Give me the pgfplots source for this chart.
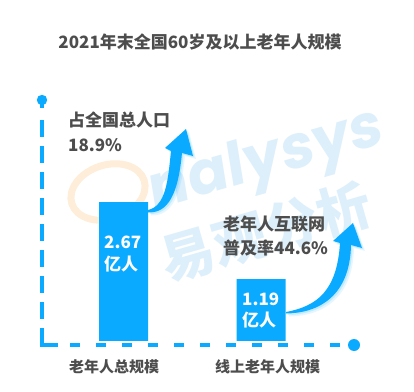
\documentclass[border=0pt]{standalone}
\usepackage{pgfplots}
\pgfplotsset{compat=1.18}
\usepackage{fontspec}
\setmainfont{Noto Sans CJK SC}
\newfontfamily\wmfont{Poppins}[FakeSlant=0.12]
\definecolor{barblue}{RGB}{9,170,255}
\definecolor{txtgrey}{RGB}{77,77,77}
\definecolor{wmblue}{RGB}{220,239,251}
\definecolor{wmorange}{RGB}{254,237,216}
\newcommand{\fs}[1]{\fontsize{#1}{#1}\selectfont}
\begin{document}
\begin{tikzpicture}
\path[use as bounding box] (0pt,0pt) rectangle (414pt,391pt);
% background watermark (coordinates in px, y downwards)
\begin{scope}[x=1pt,y=-1pt,yshift=391pt]
  \draw[wmorange, line width=7pt, rotate around={18:(108,192)}] (108,192) ellipse (38 and 27);
  \node[rotate=16, text=wmblue, font=\wmfont\bfseries\fs{60}] at (265,163) {nalysys};
  \node[rotate=16, text=wmblue, font=\bfseries\fs{54}] at (266,232) {易观分析};
\end{scope}
% bars
\begin{axis}[at={(42pt,47pt)}, anchor=south west, scale only axis,
  width=312pt, height=244pt,
  xmin=-0.593, xmax=1.676, ymin=-0.058, ymax=4.635,
  axis lines=none, ybar, bar width=49pt, clip=false]
  \addplot[fill=barblue, draw=none] coordinates {(0,2.67) (1,1.19)};
\end{axis}
\begin{scope}[x=1pt,y=-1pt,yshift=391pt]
  % dashed axes with round end points
  \draw[barblue, line width=4pt, dash pattern=on 17pt off 9pt] (42,120) -- (42,328);
  \draw[barblue, line width=4pt, miter limit=2] (42,328) -- (42,345) -- (58,345);
  \draw[barblue, line width=4pt, dash pattern=on 10pt off 16pt] (70,345) -- (345,345);
  \fill[barblue] (42,100) circle (5.2);
  \draw[barblue, line width=4pt] (42,100) -- (42,108);
  \fill[barblue] (354,345) circle (6);
  % curved arrows
  \foreach \s/\o in {3/0.10, 1.5/0.16}{
    \fill[barblue, opacity=\o, shift={(\s,\s)}]
      (148,210) .. controls (166,206) and (168,180) .. (171,151)
      -- (165,148) -- (186,129) -- (193,156) -- (182,153)
      .. controls (178,195) and (168,213) .. (148,212.5) -- cycle;
    \fill[barblue, opacity=\o, shift={(\s,\s)}]
      (286,312) .. controls (318,306) and (337,290) .. (340,243)
      -- (333,241) -- (353,223) -- (362,248) -- (351,245)
      .. controls (350,295) and (320,313) .. (286,313.5) -- cycle;
  }
  \fill[barblue]
    (148,210) .. controls (166,206) and (168,180) .. (171,151)
    -- (165,148) -- (186,129) -- (193,156) -- (182,153)
    .. controls (178,195) and (168,213) .. (148,212.5) -- cycle;
  \fill[barblue]
    (286,312) .. controls (318,306) and (337,290) .. (340,243)
    -- (333,241) -- (353,223) -- (362,248) -- (351,245)
    .. controls (350,295) and (320,313) .. (286,313.5) -- cycle;
  % title
  \node[anchor=base, text=txtgrey, font=\bfseries\fs{17}] at (200,49) {2021年末全国60岁及以上老年人规模};
  % notes
  \node[anchor=base west, inner sep=0pt, text=txtgrey, font=\bfseries\fs{17}] at (68,127) {占全国总人口};
  \node[anchor=base west, inner sep=0pt, text=txtgrey, font=\bfseries\fs{17}] at (68,152) {18.9\%};
  \node[anchor=base west, inner sep=0pt, text=txtgrey, font=\bfseries\fs{17}] at (223,230) {老年人互联网};
  \node[anchor=base west, inner sep=0pt, text=txtgrey, font=\bfseries\fs{17}] at (223,254) {普及率44.6\%};
  % bar values
  \node[anchor=base west, inner sep=0pt, text=white, font=\bfseries\fs{17}] at (104,248) {2.67};
  \node[anchor=base west, inner sep=0pt, text=white, font=\bfseries\fs{17}] at (104,270) {亿人};
  \node[anchor=base west, inner sep=0pt, text=white, font=\bfseries\fs{17}] at (242,305) {1.19};
  \node[anchor=base west, inner sep=0pt, text=white, font=\bfseries\fs{17}] at (242,326) {亿人};
  % categories
  \node[anchor=base, inner sep=0pt, text=txtgrey, font=\bfseries\fs{15}] at (114,372) {老年人总规模};
  \node[anchor=base, inner sep=0pt, text=txtgrey, font=\bfseries\fs{15}] at (267.5,372) {线上老年人规模};
\end{scope}
\end{tikzpicture}
\end{document}
